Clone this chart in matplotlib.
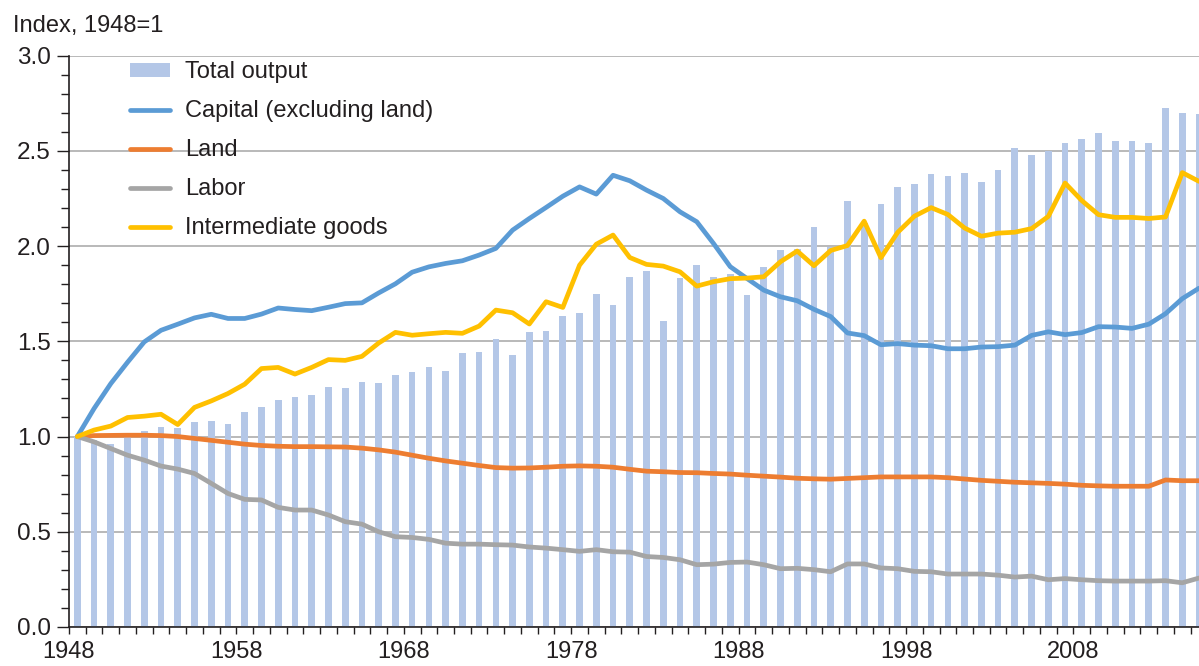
import numpy as np
import matplotlib
matplotlib.use('Agg')
import matplotlib.pyplot as plt
from matplotlib.ticker import FixedLocator, MultipleLocator

plt.rcParams['font.family'] = ['Liberation Sans', 'DejaVu Sans']
TXT = '#231f20'

# index values, 1948=1
years = list(range(1948, 2016))
total_output = [1.00, 0.98, 0.96, 1.00, 1.03, 1.05, 1.045, 1.076, 1.08, 1.068,
                1.128, 1.157, 1.193, 1.207, 1.218, 1.261, 1.254, 1.286, 1.279, 1.321,
                1.340, 1.365, 1.345, 1.437, 1.444, 1.51, 1.428, 1.549, 1.556, 1.631,
                1.65, 1.748, 1.69, 1.840, 1.867, 1.605, 1.832, 1.90, 1.836, 1.851,
                1.745, 1.888, 1.979, 1.984, 2.101, 1.997, 2.237, 2.12, 2.219, 2.312,
                2.326, 2.379, 2.369, 2.385, 2.338, 2.40, 2.515, 2.48, 2.50, 2.542,
                2.563, 2.592, 2.55, 2.55, 2.539, 2.726, 2.70, 2.693]
capital = [1.0, 1.147, 1.278, 1.39, 1.497, 1.558, 1.59, 1.623, 1.642, 1.62,
           1.62, 1.643, 1.675, 1.667, 1.661, 1.679, 1.698, 1.702, 1.754, 1.802,
           1.863, 1.891, 1.909, 1.923, 1.953, 1.988, 2.084, 2.145, 2.203, 2.262,
           2.311, 2.273, 2.372, 2.343, 2.294, 2.25, 2.18, 2.128, 2.014, 1.892,
           1.83, 1.769, 1.734, 1.713, 1.668, 1.63, 1.544, 1.53, 1.482, 1.488,
           1.48, 1.477, 1.461, 1.461, 1.47, 1.472, 1.48, 1.531, 1.55, 1.535,
           1.546, 1.577, 1.575, 1.568, 1.59, 1.645, 1.724, 1.779]
land = [1.0, 1.005, 1.006, 1.007, 1.007, 1.005, 1.0, 0.99, 0.98, 0.97,
        0.96, 0.953, 0.949, 0.947, 0.947, 0.946, 0.945, 0.939, 0.93, 0.918,
        0.902, 0.886, 0.872, 0.86, 0.848, 0.837, 0.834, 0.835, 0.839, 0.844,
        0.846, 0.844, 0.839, 0.828, 0.818, 0.815, 0.811, 0.81, 0.806, 0.803,
        0.797, 0.792, 0.787, 0.781, 0.778, 0.776, 0.78, 0.784, 0.788, 0.788,
        0.788, 0.788, 0.784, 0.777, 0.77, 0.765, 0.76, 0.757, 0.754, 0.75,
        0.744, 0.741, 0.739, 0.739, 0.739, 0.772, 0.768, 0.768]
labor = [1.0, 0.972, 0.937, 0.902, 0.876, 0.845, 0.829, 0.806, 0.754, 0.701,
         0.67, 0.667, 0.628, 0.614, 0.614, 0.588, 0.553, 0.54, 0.50, 0.474,
         0.47, 0.46, 0.44, 0.435, 0.435, 0.432, 0.43, 0.42, 0.414, 0.406,
         0.397, 0.406, 0.395, 0.393, 0.37, 0.365, 0.353, 0.327, 0.33, 0.339,
         0.341, 0.327, 0.306, 0.308, 0.301, 0.29, 0.331, 0.331, 0.31, 0.306,
         0.292, 0.29, 0.278, 0.278, 0.278, 0.272, 0.262, 0.267, 0.248, 0.254,
         0.248, 0.243, 0.241, 0.241, 0.241, 0.243, 0.232, 0.257]
intermediate = [1.0, 1.034, 1.055, 1.10, 1.107, 1.117, 1.063, 1.153, 1.187, 1.226,
                1.275, 1.357, 1.363, 1.328, 1.363, 1.404, 1.40, 1.421, 1.491, 1.547,
                1.532, 1.54, 1.547, 1.542, 1.58, 1.664, 1.65, 1.591, 1.708, 1.678,
                1.90, 2.01, 2.058, 1.94, 1.904, 1.895, 1.865, 1.79, 1.813, 1.829,
                1.832, 1.839, 1.918, 1.974, 1.897, 1.977, 2.003, 2.131, 1.939, 2.072,
                2.157, 2.202, 2.166, 2.095, 2.052, 2.068, 2.073, 2.092, 2.156, 2.331,
                2.239, 2.165, 2.151, 2.151, 2.145, 2.153, 2.386, 2.34]

series = [('Capital (excluding land)', capital, '#5b9bd5'),
          ('Land', land, '#ed7d31'),
          ('Labor', labor, '#a5a5a5'),
          ('Intermediate goods', intermediate, '#ffc000')]

fig = plt.figure(figsize=(11.99, 6.66), dpi=100)
ax = fig.add_axes([0.0575, 0.0586, 0.9425, 0.8578])

x = np.arange(len(years))
bars = ax.bar(x, total_output, width=0.4, color='#b4c7e7', label='Total output', zorder=2)
handles = [bars]
for name, vals, col in series:
    ln, = ax.plot(x, vals, color=col, lw=3.4, label=name, solid_capstyle='round',
                  solid_joinstyle='round', zorder=3)
    handles.append(ln)

ax.set_xlim(-0.5, 67.0)
ax.set_ylim(0, 3.0)

# ticks at year boundaries, labels every 10 years
edges = np.arange(len(years)) - 0.5
ax.xaxis.set_major_locator(FixedLocator(edges))
ax.set_xticklabels([str(y) if (y - 1948) % 10 == 0 else '' for y in years])
ax.tick_params(axis='x', length=5, width=1, pad=5, labelsize=17, colors=TXT)
ax.yaxis.set_major_locator(MultipleLocator(0.5))
ax.yaxis.set_minor_locator(MultipleLocator(0.1))
ax.yaxis.set_major_formatter(matplotlib.ticker.FormatStrFormatter('%.1f'))
ax.tick_params(axis='y', which='major', length=9, width=1, pad=4, labelsize=17.5, colors=TXT)
ax.tick_params(axis='y', which='minor', length=6, width=1, colors=TXT)

ax.grid(axis='y', color='#a6a6a6', lw=1.1)
ax.set_axisbelow(True)
for s in ['top', 'right']:
    ax.spines[s].set_visible(False)
for s in ['left', 'bottom']:
    ax.spines[s].set_color(TXT)
    ax.spines[s].set_linewidth(1.2)

leg = ax.legend(handles=handles, loc='upper left', bbox_to_anchor=(0.054, 0.99), frameon=False,
                fontsize=17, handlelength=1.7, handleheight=0.55, handletextpad=0.62,
                labelspacing=0.72, borderpad=0, borderaxespad=0)
for t in leg.get_texts():
    t.set_color(TXT)

fig.text(0.0108, 0.978, 'Index, 1948=1', fontsize=17, color=TXT, va='top', ha='left')

fig.savefig('out.png', dpi=100)
